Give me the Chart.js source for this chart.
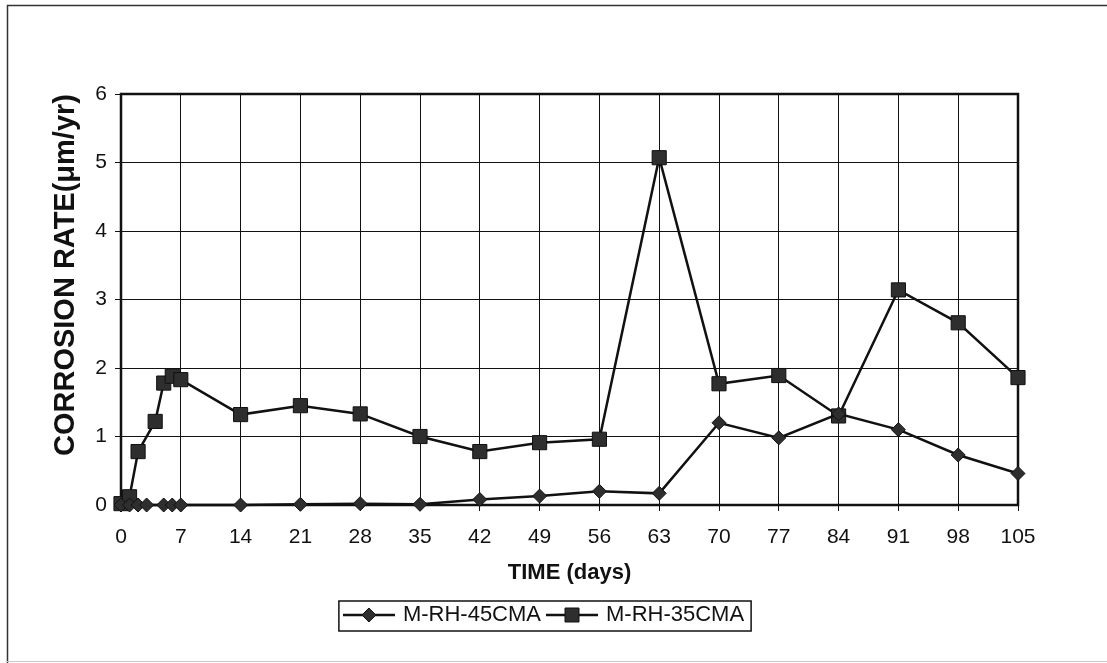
<!DOCTYPE html>
<html lang="en">
<head>
    <meta charset="UTF-8">
    <title>Corrosion Rate vs Time</title>
    <script src="https://cdn.jsdelivr.net/npm/chart.js"></script>
    <style>
        html, body { margin: 0; padding: 0; background: #fff; }
        #chart { display: block; }
    </style>
</head>
<body>
    <canvas id="chart" width="1107" height="663"></canvas>
    <script>
        // sampling days and measured rates (µm/yr) for each specimen
        const days45 = [0, 1, 2, 3, 5, 6, 7, 14, 21, 28, 35, 42, 49, 56, 63, 70, 77, 84, 91, 98, 105];
        const rate45 = [0, 0, 0, 0, 0, 0, 0, 0, 0.01, 0.02, 0.01, 0.08, 0.13, 0.2, 0.17, 1.2, 0.98, 1.33, 1.1, 0.73, 0.46];

        const days35 = [0, 1, 2, 4, 5, 6, 7, 14, 21, 28, 35, 42, 49, 56, 63, 70, 77, 84, 91, 98, 105];
        const rate35 = [0.02, 0.12, 0.78, 1.22, 1.78, 1.88, 1.83, 1.32, 1.45, 1.33, 1.0, 0.78, 0.91, 0.96, 5.07, 1.77, 1.89, 1.3, 3.14, 2.66, 1.86];

        const seriesNames = ['M-RH-45CMA', 'M-RH-35CMA'];
        const xTicks = [0, 7, 14, 21, 28, 35, 42, 49, 56, 63, 70, 77, 84, 91, 98, 105];
        const yTicks = [0, 1, 2, 3, 4, 5, 6];

        const FONT = "'Liberation Sans', Arial, sans-serif";
        const INK = '#111';
        const MARK = '#2e2e2e';

        function toPoints(xs, ys) {
            return xs.map((x, i) => ({ x: x, y: ys[i] }));
        }

        // little line + marker swatch used in the legend
        function legendSwatch(kind) {
            const c = document.createElement('canvas');
            c.width = 52;
            c.height = 18;
            const g = c.getContext('2d');
            g.strokeStyle = INK;
            g.lineWidth = 2.5;
            g.beginPath();
            g.moveTo(0, 9);
            g.lineTo(52, 9);
            g.stroke();
            g.fillStyle = MARK;
            g.lineWidth = 1;
            g.beginPath();
            if (kind === 'diamond') {
                g.moveTo(26 - 7, 9);
                g.lineTo(26, 2);
                g.lineTo(26 + 7, 9);
                g.lineTo(26, 16);
                g.closePath();
            } else {
                g.rect(26 - 7, 2, 14, 14);
            }
            g.fill();
            g.stroke();
            return c;
        }
        const swatches = [legendSwatch('diamond'), legendSwatch('square')];

        // outer frame, plot box and the border round the legend
        const framePlugin = {
            id: 'frames',
            beforeDraw(chart) {
                const ctx = chart.ctx;
                ctx.save();
                ctx.fillStyle = '#fff';
                ctx.fillRect(0, 0, chart.width, chart.height);
                ctx.strokeStyle = '#333';
                ctx.lineWidth = 1.5;
                ctx.beginPath();
                ctx.moveTo(7.5, chart.height);
                ctx.lineTo(7.5, 5.5);
                ctx.lineTo(chart.width, 5.5);
                ctx.stroke();
                ctx.strokeStyle = '#c8c8c8';
                ctx.lineWidth = 1;
                ctx.beginPath();
                ctx.moveTo(7, 661.5);
                ctx.lineTo(chart.width, 661.5);
                ctx.stroke();
                ctx.restore();
            },
            beforeDatasetsDraw(chart) {
                const a = chart.chartArea;
                const ctx = chart.ctx;
                ctx.save();
                ctx.strokeStyle = INK;
                ctx.lineWidth = 2.5;
                ctx.strokeRect(a.left, a.top, a.right - a.left, a.bottom - a.top);
                ctx.restore();
            },
            afterDraw(chart) {
                const boxes = chart.legend && chart.legend.legendHitBoxes;
                if (!boxes || !boxes.length) return;
                const first = boxes[0];
                const last = boxes[boxes.length - 1];
                const ctx = chart.ctx;
                ctx.save();
                ctx.strokeStyle = INK;
                ctx.lineWidth = 1.5;
                ctx.strokeRect(first.left - 7, first.top - 3, last.left + last.width - first.left + 14, first.height + 8);
                ctx.restore();
            }
        };

        const ctx = document.getElementById('chart').getContext('2d');
        new Chart(ctx, {
            type: 'line',
            data: {
                datasets: [
                    {
                        label: seriesNames[0],
                        data: toPoints(days45, rate45),
                        borderColor: INK,
                        borderWidth: 2.5,
                        pointStyle: 'rectRot',
                        pointRadius: 7,
                        pointBackgroundColor: MARK,
                        pointBorderColor: INK,
                        pointBorderWidth: 1,
                        tension: 0,
                        clip: false
                    },
                    {
                        label: seriesNames[1],
                        data: toPoints(days35, rate35),
                        borderColor: INK,
                        borderWidth: 2.5,
                        pointStyle: 'rect',
                        pointRadius: 10,
                        pointBackgroundColor: MARK,
                        pointBorderColor: INK,
                        pointBorderWidth: 1,
                        tension: 0,
                        clip: false
                    }
                ]
            },
            options: {
                responsive: false,
                animation: false,
                devicePixelRatio: 1,
                layout: { padding: { left: 30, right: 47, top: 94, bottom: 27 } },
                plugins: {
                    tooltip: { enabled: false },
                    legend: {
                        position: 'bottom',
                        labels: {
                            color: INK,
                            font: { family: FONT, size: 22 },
                            usePointStyle: true,
                            pointStyleWidth: 46,
                            padding: 8,
                            generateLabels(chart) {
                                const items = Chart.defaults.plugins.legend.labels.generateLabels(chart);
                                items.forEach((it, i) => { it.pointStyle = swatches[i]; });
                                return items;
                            }
                        }
                    }
                },
                scales: {
                    x: {
                        type: 'linear',
                        min: 0,
                        max: 105,
                        afterBuildTicks(scale) {
                            scale.ticks = xTicks.map(v => ({ value: v }));
                        },
                        afterFit(scale) { scale.height = 91; },
                        grid: { color: INK, lineWidth: 1, tickLength: 6 },
                        border: { color: INK, width: 2 },
                        ticks: {
                            color: INK,
                            padding: 14,
                            maxRotation: 0,
                            autoSkip: false,
                            font: { family: FONT, size: 21 }
                        },
                        title: {
                            display: true,
                            text: 'TIME (days)',
                            color: INK,
                            font: { family: FONT, size: 22, weight: 'bold' },
                            padding: { top: 0, bottom: 10 }
                        }
                    },
                    y: {
                        type: 'linear',
                        min: 0,
                        max: 6,
                        afterBuildTicks(scale) {
                            scale.ticks = yTicks.map(v => ({ value: v }));
                        },
                        afterFit(scale) { scale.width = 91; },
                        grid: { color: INK, lineWidth: 1, tickLength: 6 },
                        border: { color: INK, width: 2 },
                        ticks: {
                            color: INK,
                            padding: 8,
                            font: { family: FONT, size: 21 }
                        },
                        title: {
                            display: true,
                            text: 'CORROSION RATE(\u03bcm/yr)',
                            align: 'end',
                            color: INK,
                            font: { family: FONT, size: 29, weight: 'bold' },
                            padding: { top: 19, bottom: 0 }
                        }
                    },
                    // empty right-hand spacer so the legend sits where it should
                    yRight: {
                        position: 'right',
                        min: 0,
                        max: 6,
                        afterFit(scale) { scale.width = 42; },
                        grid: { display: false },
                        border: { display: false },
                        ticks: { display: false }
                    }
                }
            },
            plugins: [framePlugin]
        });
    </script>
</body>
</html>
